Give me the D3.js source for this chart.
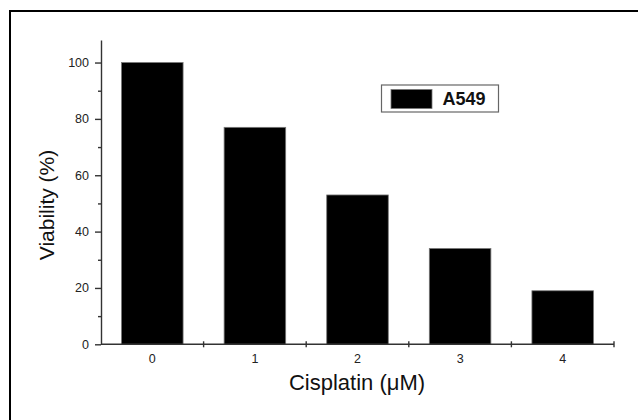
<!DOCTYPE html>
<html>
<head>
<meta charset="utf-8">
<script src="https://cdn.jsdelivr.net/npm/d3@7"></script>
<style>
  body { margin: 0; background: #fff; }
  svg { display: block; font-family: "Liberation Sans", Arial, sans-serif; }
</style>
</head>
<body>
<div id="chart"></div>
<script>
// data
const doses = ["0", "1", "2", "3", "4"];
const viability = [100, 77, 53, 34, 19];
const majorTicks = [0, 20, 40, 60, 80, 100];
const minorTicks = [10, 30, 50, 70, 90];
const seriesName = "A549";

const W = 638, H = 420;
const plotLeft = 101, plotRight = 614, plotTop = 40, plotBottom = 344.3;
const axisColor = "#333";

const svg = d3.select("#chart").append("svg")
    .attr("width", W).attr("height", H);

// outer frame (only top/left visible in the picture)
svg.append("rect")
    .attr("x", 10).attr("y", 11)
    .attr("width", 800).attr("height", 600)
    .attr("fill", "none").attr("stroke", "#000").attr("stroke-width", 2);

const x = d3.scaleBand().domain(doses).range([plotLeft, plotRight])
    .paddingInner(0.4).paddingOuter(0.2);
const y = d3.scaleLinear().domain([0, 108]).range([plotBottom, plotTop]);
const step = x.step();

// bars
svg.selectAll("rect.bar")
    .data(viability)
  .enter().append("rect")
    .attr("class", "bar")
    .attr("x", (d, i) => x(doses[i]))
    .attr("y", d => y(d))
    .attr("width", x.bandwidth())
    .attr("height", d => y(0) - y(d))
    .attr("fill", "#000")
    .attr("stroke", "#777")
    .attr("stroke-width", 0.8);

// y axis, major + minor ticks
svg.append("g").attr("transform", "translate(" + plotLeft + ",0)")
    .call(d3.axisLeft(y).tickValues(majorTicks).tickSize(6).tickSizeOuter(0).tickPadding(6));
svg.append("g").attr("transform", "translate(" + plotLeft + ",0)")
    .call(d3.axisLeft(y).tickValues(minorTicks).tickSize(3).tickFormat(""))
    .call(g => g.select(".domain").remove());

// x axis labels at band centres
const xAxis = svg.append("g").attr("transform", "translate(0," + plotBottom + ")")
    .call(d3.axisBottom(x).tickSize(0).tickPadding(10));
xAxis.select(".domain").remove();

// x axis line and ticks at band boundaries
svg.append("line")
    .attr("x1", plotLeft).attr("x2", plotRight)
    .attr("y1", plotBottom).attr("y2", plotBottom);
svg.selectAll("line.bound")
    .data(doses)
  .enter().append("line")
    .attr("class", "bound")
    .attr("x1", (d, i) => plotLeft + step * (i + 1))
    .attr("x2", (d, i) => plotLeft + step * (i + 1))
    .attr("y1", plotBottom - 3).attr("y2", plotBottom + 3);

svg.selectAll("line, path.domain, .tick line")
    .attr("stroke", axisColor).attr("stroke-width", 1.4);
svg.selectAll(".tick text")
    .attr("fill", "#222").style("font-size", "12.5px");
svg.selectAll("g").attr("font-family", null).attr("font-size", null);

// axis titles
svg.append("text")
    .attr("transform", "translate(54,205) rotate(-90)")
    .attr("text-anchor", "middle")
    .style("font-size", "21px").attr("fill", "#111")
    .text("Viability (%)");
svg.append("text")
    .attr("x", 357).attr("y", 390)
    .attr("text-anchor", "middle")
    .style("font-size", "22px").attr("fill", "#111")
    .text("Cisplatin (μM)");

// legend
const lg = svg.append("g");
lg.append("rect")
    .attr("x", 381.5).attr("y", 85).attr("width", 117).attr("height", 27)
    .attr("fill", "#fff").attr("stroke", "#666").attr("stroke-width", 1.2);
lg.append("rect")
    .attr("x", 391).attr("y", 89.5).attr("width", 41).attr("height", 19)
    .attr("fill", "#000").attr("stroke", "#777").attr("stroke-width", 0.8);
lg.append("text")
    .attr("x", 442.5).attr("y", 105)
    .style("font-size", "18px").style("font-weight", "bold").attr("fill", "#111")
    .text(seriesName);
</script>
</body>
</html>
